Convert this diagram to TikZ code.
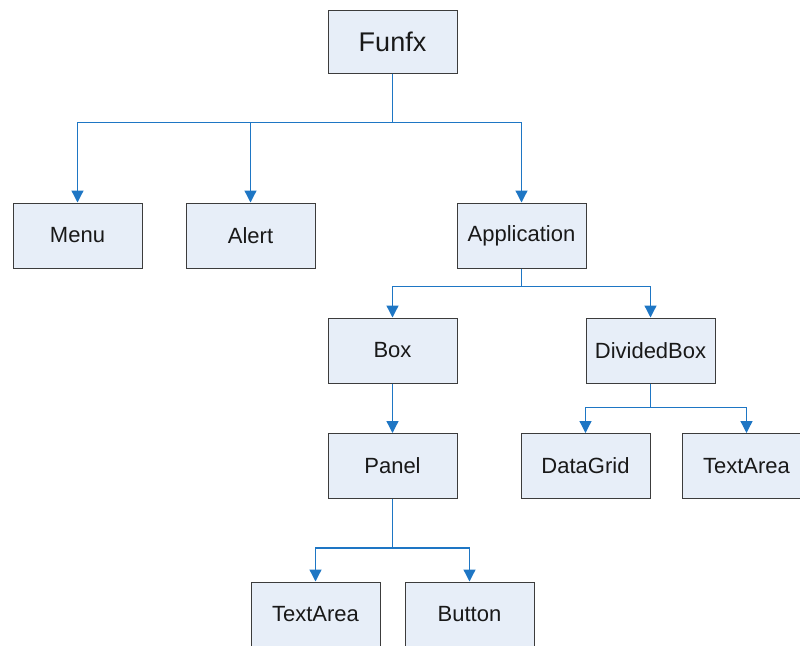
\documentclass[tikz,border=0pt]{standalone}
\usepackage{fontspec}
\setmainfont{Liberation Sans}
\usetikzlibrary{arrows.meta}
\definecolor{boxfill}{RGB}{231,238,248}
\definecolor{boxline}{RGB}{60,60,60}
\definecolor{linkblue}{RGB}{30,118,196}
\tikzset{
  cls/.style={draw=boxline, line width=1pt, fill=boxfill, minimum width=129pt, minimum height=65pt, inner sep=0pt, font=\fontsize{22}{25}\selectfont, text=black!90},
  link/.style={draw=linkblue, line width=1.3pt, -{Triangle[width=12pt,length=12pt]}}
}
\begin{document}
\begin{tikzpicture}[x=1pt,y=-1pt]
\useasboundingbox (0,0) rectangle (800,645);
\clip (0,0) rectangle (800,645);
\node[cls, minimum height=63pt, font=\fontsize{27}{30}\selectfont] (funfx) at (392.5,41.5) {Funfx};
\node[cls] (menu) at (77.5,235.5) {Menu};
\node[cls] (alert) at (250.5,235.5) {Alert};
\node[cls] (app) at (521.5,235.5) {Application};
\node[cls] (box) at (392.5,350.5) {Box};
\node[cls] (dbox) at (650.5,350.5) {DividedBox};
\node[cls] (panel) at (392.5,466) {Panel};
\node[cls] (grid) at (585.5,466) {DataGrid};
\node[cls] (tarea2) at (746.5,466) {TextArea};
\node[cls] (tarea1) at (315.5,614.5) {TextArea};
\node[cls] (button) at (469.5,614.5) {Button};

\draw[link] (funfx.south) -- ++(0,49) -| (menu.north);
\draw[link] (funfx.south) -- ++(0,49) -| (alert.north);
\draw[link] (funfx.south) -- ++(0,49) -| (app.north);
\draw[link] (app.south) -- ++(0,18) -| (box.north);
\draw[link] (app.south) -- ++(0,18) -| (dbox.north);
\draw[link] (box.south) -- (panel.north);
\draw[link] (dbox.south) -- ++(0,24) -| (grid.north);
\draw[link] (dbox.south) -- ++(0,24) -| (tarea2.north);
\draw[link] (panel.south) -- ++(0,49) -| (tarea1.north);
\draw[link] (panel.south) -- ++(0,49) -| (button.north);
\end{tikzpicture}
\end{document}
